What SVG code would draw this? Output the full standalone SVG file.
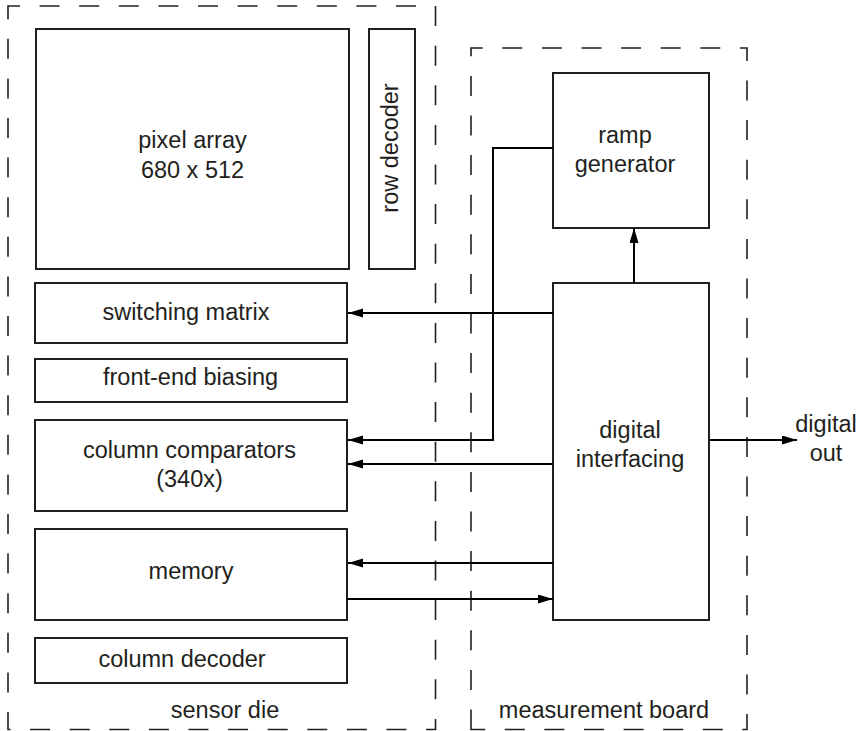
<svg xmlns="http://www.w3.org/2000/svg" width="861" height="731" viewBox="0 0 861 731">
<defs>
<style>
.box{fill:#fff;stroke:#231f20;stroke-width:2}
.dash{fill:none;stroke:#231f20;stroke-width:1.6;stroke-dasharray:20 19.6}
.t{font-family:"Liberation Sans",Arial,sans-serif;font-size:23.5px;fill:#231f20;text-anchor:middle}
.c{fill:none;stroke:#000;stroke-width:2}
</style>
<marker id="ah" markerUnits="userSpaceOnUse" markerWidth="16" markerHeight="10" refX="15" refY="4.5" orient="auto">
<path d="M0,0 L15,4.5 L0,9 Z" fill="#000"/>
</marker>
</defs>
<rect width="861" height="731" fill="#fff"/>
<g id="sensor-die">
<path class="dash" d="M8,14 L8,6 L435.5,6 L435.5,729.5 L8,729.5 Z"/>
<text class="t" x="225" y="718">sensor die</text>
</g>
<g id="measurement-board">
<path class="dash" d="M471,729.5 L471,48 L747,48 L747,729.5 Z"/>
<text class="t" x="604" y="718">measurement board</text>
</g>
<g id="pixel-array">
<rect class="box" x="36" y="29" width="313" height="240"/>
<text class="t" x="192.5" y="148">pixel array</text>
<text class="t" x="192.5" y="178">680 x 512</text>
</g>
<g id="row-decoder">
<rect class="box" x="369" y="29" width="46" height="240"/>
<text class="t" transform="translate(398,148) rotate(-90)">row decoder</text>
</g>
<g id="switching-matrix">
<rect class="box" x="35" y="283" width="312" height="60"/>
<text class="t" x="186" y="320">switching matrix</text>
</g>
<g id="front-end-biasing">
<rect class="box" x="35" y="359" width="312" height="43"/>
<text class="t" x="190.5" y="385">front-end biasing</text>
</g>
<g id="column-comparators">
<rect class="box" x="35" y="420" width="312" height="91"/>
<text class="t" x="189.5" y="458">column comparators</text>
<text class="t" x="189.5" y="487">(340x)</text>
</g>
<g id="memory">
<rect class="box" x="35" y="529" width="312" height="91"/>
<text class="t" x="191" y="579">memory</text>
</g>
<g id="column-decoder">
<rect class="box" x="35" y="638" width="312" height="45"/>
<text class="t" x="182" y="667">column decoder</text>
</g>
<g id="ramp-generator">
<rect class="box" x="553" y="73" width="156" height="155"/>
<text class="t" x="625" y="143">ramp</text>
<text class="t" x="625" y="172">generator</text>
</g>
<g id="digital-interfacing">
<rect class="box" x="553" y="283" width="156" height="337"/>
<text class="t" x="630" y="438">digital</text>
<text class="t" x="630" y="467">interfacing</text>
</g>
<g id="digital-out">
<text class="t" x="826" y="432">digital</text>
<text class="t" x="826" y="461">out</text>
</g>
<g id="connectors">
<polyline class="c" points="553,148 493,148 493,440 348,440" marker-end="url(#ah)"/>
<line class="c" x1="553" y1="313" x2="348" y2="313" marker-end="url(#ah)"/>
<line class="c" x1="553" y1="464" x2="348" y2="464" marker-end="url(#ah)"/>
<line class="c" x1="553" y1="563" x2="348" y2="563" marker-end="url(#ah)"/>
<line class="c" x1="347" y1="599" x2="553" y2="599" marker-end="url(#ah)"/>
<line class="c" x1="634" y1="283" x2="634" y2="228" marker-end="url(#ah)"/>
<line class="c" x1="709" y1="440" x2="797" y2="440" marker-end="url(#ah)"/>
</g>
</svg>
